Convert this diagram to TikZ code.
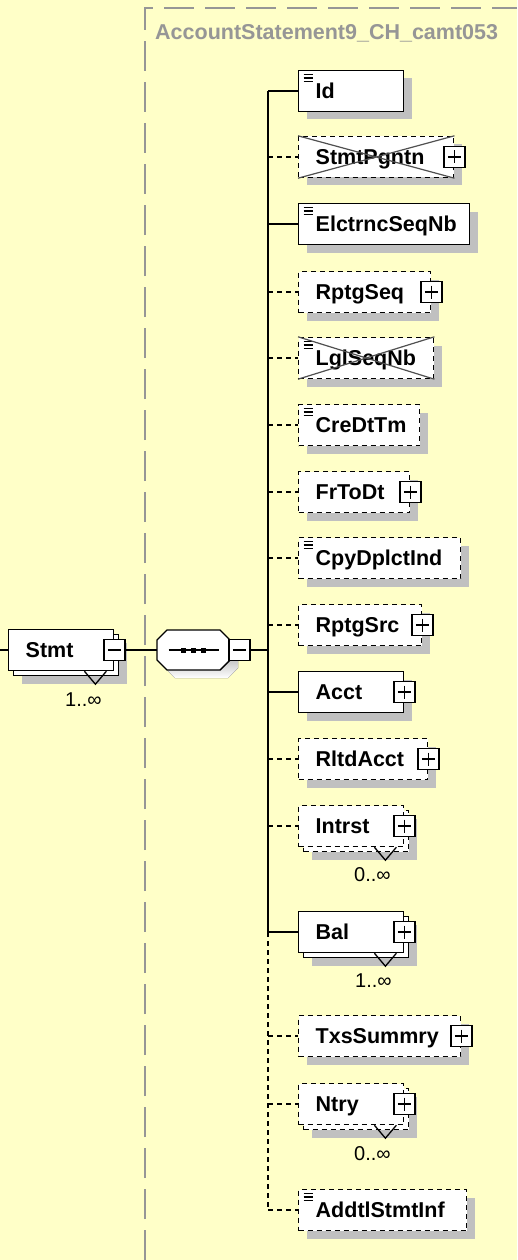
\documentclass[tikz,border=0pt]{standalone}
\usepackage{fontspec}
\setmainfont{Liberation Sans}
\usetikzlibrary{shadows}

\definecolor{canvas}{RGB}{255,255,200}
\definecolor{shade}{RGB}{192,192,192}
\definecolor{frame}{RGB}{150,150,150}
\definecolor{strikecol}{RGB}{80,80,80}

\newcommand{\elemfont}{\fontsize{21.5}{24}\selectfont\bfseries}
\newcommand{\occfont}{\fontsize{20}{22}\selectfont}

\tikzset{
  elem/.style={draw, fill=white, line width=1.4pt, anchor=west, minimum height=41pt,
    text width=#1, align=left, inner xsep=0pt, inner ysep=0pt,
    text height=19pt, text depth=4pt, font=\elemfont,
    execute at begin node={\hspace*{17pt}}},
  shadowed/.style={drop shadow={shadow xshift=8pt, shadow yshift=-8pt, fill=shade, opacity=1}},
  optional/.style={dash pattern=on 5pt off 4pt},
  simple/.style={path picture={
    \foreach \dy in {4pt,7.5pt,11pt}
      \draw[solid, line width=1.3pt] ([xshift=5pt,yshift=-\dy]path picture bounding box.north west) -- ++(9pt,0pt);}},
  expand/.style={draw, fill=white, line width=1.3pt, minimum size=21pt, inner sep=0pt,
    path picture={\draw[line width=1.3pt]
      ([xshift=4pt]path picture bounding box.west) -- ([xshift=-4pt]path picture bounding box.east)
      ([yshift=-4pt]path picture bounding box.north) -- ([yshift=4pt]path picture bounding box.south);}},
  collapse/.style={draw, fill=white, line width=1.3pt, minimum size=21pt, inner sep=0pt,
    path picture={\draw[line width=1.3pt]
      ([xshift=4pt]path picture bounding box.west) -- ([xshift=-4pt]path picture bounding box.east);}},
  seqbox/.style={minimum width=73pt, minimum height=40pt, inner sep=0pt},
  sqdot/.style={fill, minimum size=5pt, inner sep=0pt},
  link/.style={line width=1.6pt},
  fold/.style={line width=1.3pt},
  strike/.style={line width=1.2pt, strikecol},
  occ/.style={font=\occfont, inner sep=0pt},
  title/.style={anchor=west, text=frame, font=\elemfont, inner sep=0pt},
}

\begin{document}
\begin{tikzpicture}[x=1pt,y=-1pt]
\useasboundingbox (0,0) rectangle (517,1260);
\fill[canvas] (0,0) rectangle (517,1260);
\draw[frame, line width=1.5pt, dash pattern=on 30pt off 11pt] (145,1260) -- (145,8) -- (517,8);
\node[title] (cplx) at (155,33) {AccountStatement9\_CH\_camt053};

\coordinate (in) at (0,650);
\coordinate (trunk) at (268,650);

\node[elem=105pt, shadowed] (stmt-b) at (13,655) {};
\node[elem=105pt] (stmt) at (8,650) {Stmt};
\node[collapse] (stmt-m) at (stmt.east) {};

\node[seqbox] (seq) at (193.5,650) {};
\begin{scope}[shift={(seq.center)}]
\fill[shade, shift={(8,8)}] (-36.5,-10) -- (-26.5,-20) -- (26.5,-20) -- (36.5,-10)
  -- (36.5,10) -- (26.5,20) -- (-26.5,20) -- (-36.5,10) -- cycle;
\filldraw[fill=white, line width=1.4pt] (-36.5,-10) -- (-26.5,-20) -- (26.5,-20) -- (36.5,-10)
  -- (36.5,10) -- (26.5,20) -- (-26.5,20) -- (-36.5,10) -- cycle;
\draw[line width=1.3pt] (-25,0) -- (25,0);
\end{scope}
\foreach \dx in {-10pt,0pt,10pt}
  \node[sqdot] at ([xshift=\dx]seq.center) {};
\node[collapse, anchor=west] (seq-m) at ([xshift=-2pt]seq.east) {};

\node[elem=105pt, shadowed, simple] (id) at (298,91) {Id};
\node[elem=155pt, shadowed, optional] (stmtpgntn) at (298,157) {StmtPgntn};
\node[elem=171pt, shadowed, simple] (elctrncseqnb) at (298,224) {ElctrncSeqNb};
\node[elem=132pt, shadowed, optional] (rptgseq) at (298,292) {RptgSeq};
\node[elem=135pt, shadowed, optional, simple] (lglseqnb) at (298,358) {LglSeqNb};
\node[elem=121pt, shadowed, optional, simple] (credttm) at (298,425) {CreDtTm};
\node[elem=111pt, shadowed, optional] (frtodt) at (298,492) {FrToDt};
\node[elem=162pt, shadowed, optional, simple] (cpydplctind) at (298,558) {CpyDplctInd};
\node[elem=123pt, shadowed, optional] (rptgsrc) at (298,625) {RptgSrc};
\node[elem=105pt, shadowed] (acct) at (298,692) {Acct};
\node[elem=129pt, shadowed, optional] (rltdacct) at (298,759) {RltdAcct};
\node[elem=105pt, shadowed, optional] (intrst-b) at (303,831) {};
\node[elem=105pt, optional] (intrst) at (298,826) {Intrst};
\node[elem=105pt, shadowed] (bal-b) at (303,937) {};
\node[elem=105pt] (bal) at (298,932) {Bal};
\node[elem=162pt, shadowed, optional] (txssummry) at (298,1036) {TxsSummry};
\node[elem=105pt, shadowed, optional] (ntry-b) at (303,1109) {};
\node[elem=105pt, optional] (ntry) at (298,1104) {Ntry};
\node[elem=168pt, shadowed, optional, simple] (addtlstmtinf) at (298,1210) {AddtlStmtInf};

\foreach \n in {stmtpgntn,lglseqnb}
  \draw[strike] (\n.north west) -- (\n.south east) (\n.south west) -- (\n.north east);
\foreach \n in {stmtpgntn,rptgseq,frtodt,rptgsrc,acct,rltdacct,intrst,bal,txssummry,ntry}
  \node[expand] (\n-x) at (\n.east) {};

\foreach \n in {stmt,intrst,bal,ntry}
  \draw[fold] ([xshift=-30pt]\n.south east) -- ([xshift=-19pt,yshift=-13pt]\n.south east) -- ([xshift=-8pt]\n.south east);
\node[occ] (stmt-n) at ([xshift=-31pt,yshift=-28pt]stmt.south east) {1..∞};
\node[occ] (intrst-n) at ([xshift=-32pt,yshift=-27pt]intrst.south east) {0..∞};
\node[occ] (bal-n) at ([xshift=-31pt,yshift=-27pt]bal.south east) {1..∞};
\node[occ] (ntry-n) at ([xshift=-32pt,yshift=-28pt]ntry.south east) {0..∞};

\draw[link] (in) -- (stmt.west);
\draw[link] (stmt-m) -- (seq);
\draw[link] (seq-m) -- (trunk);
\draw[link] (trunk |- id.west) -- (trunk |- bal.west);
\draw[link, optional] (trunk |- bal.west) -- (trunk |- addtlstmtinf.west);
\foreach \n in {id,elctrncseqnb,acct,bal}
  \draw[link] (trunk |- \n.west) -- (\n.west);
\foreach \n in {stmtpgntn,rptgseq,lglseqnb,credttm,frtodt,cpydplctind,rptgsrc,rltdacct,intrst,txssummry,ntry,addtlstmtinf}
  \draw[link, optional] (trunk |- \n.west) -- (\n.west);
\end{tikzpicture}
\end{document}
